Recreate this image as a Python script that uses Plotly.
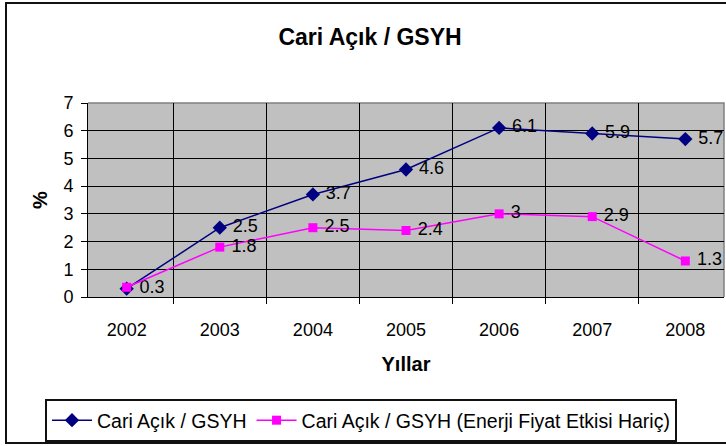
import plotly.graph_objects as go

years = ["2002", "2003", "2004", "2005", "2006", "2007", "2008"]
cari_acik = [0.3, 2.5, 3.7, 4.6, 6.1, 5.9, 5.7]
cari_acik_enerji_haric = [0.35, 1.8, 2.5, 2.4, 3.0, 2.9, 1.3]
series_names = ["Cari Açık / GSYH", "Cari Açık / GSYH (Enerji Fiyat Etkisi Hariç)"]
y_ticks = [0, 1, 2, 3, 4, 5, 6, 7]

FONT = "Arial, 'Liberation Sans', sans-serif"

blue_text = [f" {v:g}" for v in cari_acik]
pink_text = [""] + [f" {v:g}" for v in cari_acik_enerji_haric[1:]]

W, H = 726, 446
L, R, T, B = 88, 2, 103, 149
pw, ph = W - L - R, H - T - B

def px_x(x):
    return (x - L) / pw

def px_y(y):
    return (H - B - y) / ph

fig = go.Figure()
fig.add_trace(go.Scatter(
    x=years, y=cari_acik, name=series_names[0],
    mode="lines+markers+text", text=blue_text, textposition="middle right",
    textfont=dict(family=FONT, size=18, color="black"),
    line=dict(color="#000080", width=1.5),
    marker=dict(symbol="diamond", size=11, color="#000080"),
    cliponaxis=False,
))
fig.add_trace(go.Scatter(
    x=years, y=cari_acik_enerji_haric, name=series_names[1],
    mode="lines+markers+text", text=pink_text, textposition="middle right",
    textfont=dict(family=FONT, size=18, color="black"),
    line=dict(color="#FF00FF", width=1.5),
    marker=dict(symbol="square", size=9, color="#FF00FF"),
    cliponaxis=False,
))

fig.update_layout(
    width=W, height=H, autosize=False,
    margin=dict(l=L, r=R, t=T, b=B, pad=0),
    paper_bgcolor="white", plot_bgcolor="#C0C0C0",
    font=dict(family=FONT, color="black"),
    title=dict(text="Cari Açık / GSYH", font=dict(family=FONT, size=23, color="black", weight="bold"),
               xref="container", yref="container", x=370 / W, xanchor="center",
               y=1 - 37 / H, yanchor="middle"),
    showlegend=True,
    legend=dict(orientation="h", x=px_x(45), xanchor="left", y=px_y(399), yanchor="top",
                bordercolor="#111111", borderwidth=2, bgcolor="white", itemwidth=40,
                font=dict(family=FONT, size=19.5, color="black"), traceorder="normal"),
    shapes=[
        dict(type="path", xref="paper", yref="paper", path="M0,1 L1,1 L1,0",
             line=dict(color="#808080", width=1.5), layer="between"),
        dict(type="rect", xref="paper", yref="paper",
             x0=px_x(6), x1=px_x(745), y0=px_y(443), y1=px_y(3),
             line=dict(color="#111111", width=2), layer="above"),
    ],
)

fig.update_xaxes(
    type="category", categoryorder="array", categoryarray=years,
    tickson="boundaries", ticks="outside", ticklen=6, tickcolor="black", tickwidth=1,
    showgrid=True, gridcolor="black", gridwidth=1,
    showline=True, linecolor="black", linewidth=1,
    tickfont=dict(family=FONT, size=18, color="black"), ticklabelstandoff=16,
    title=dict(text="Yıllar", font=dict(family=FONT, size=20, color="black", weight="bold"), standoff=18),
)
fig.update_yaxes(
    range=[0, 7], tickvals=y_ticks, ticks="outside", ticklen=6, tickcolor="black", tickwidth=1,
    showgrid=True, gridcolor="black", gridwidth=1, zeroline=False,
    showline=True, linecolor="black", linewidth=1,
    tickfont=dict(family=FONT, size=18, color="black"), ticklabelstandoff=4,
    title=dict(text="%", font=dict(family=FONT, size=20, color="black", weight="bold"), standoff=10),
)

fig.write_html("out.html", config={"displayModeBar": False},
               post_script="document.body.style.margin='0';document.body.style.overflow='hidden';")
